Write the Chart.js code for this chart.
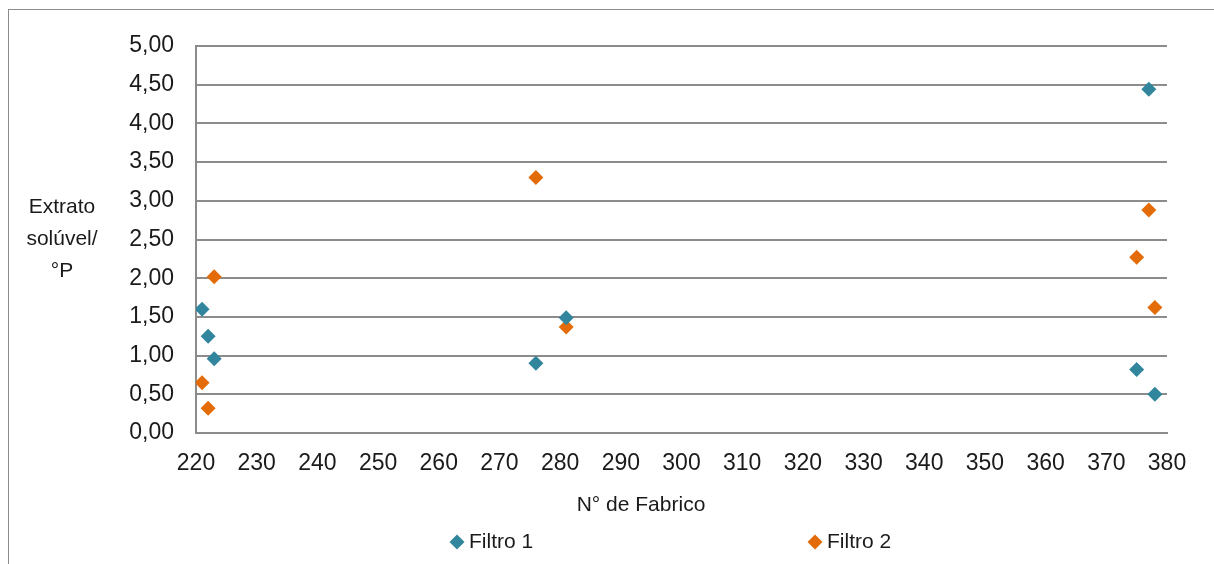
<!DOCTYPE html>
<html lang="pt">
<head>
<meta charset="utf-8">
<title>Extrato solúvel por N° de Fabrico</title>
<script src="https://cdn.jsdelivr.net/npm/chart.js@4.4.1/dist/chart.umd.min.js"></script>
<style>
  html, body { margin: 0; padding: 0; background: #ffffff; overflow: hidden; }
  #wrap { position: relative; width: 1214px; height: 564px; }
  #frame { position: absolute; left: 8px; top: 9px; width: 1300px; height: 700px; border: 1px solid #8c8c8c; box-sizing: border-box; }
  canvas { position: absolute; left: 0; top: 0; }
</style>
</head>
<body>
<div id="wrap">
  <div id="frame"></div>
  <canvas id="chart" width="1214" height="564"></canvas>
</div>
<script>
// N° de fabrico and extrato solúvel (°P) for each filter
const filtro1Fabrico = [221, 222, 223, 276, 281, 375, 377, 378];
const filtro1Extrato = [1.60, 1.25, 0.96, 0.90, 1.49, 0.82, 4.44, 0.50];
const filtro2Fabrico = [221, 222, 223, 276, 281, 375, 377, 378];
const filtro2Extrato = [0.65, 0.32, 2.02, 3.30, 1.37, 2.27, 2.88, 1.62];

const seriesNames = ['Filtro 1', 'Filtro 2'];
const yTitleLines = ['Extrato', 'solúvel/', '°P'];
const xTitle = 'N° de Fabrico';

const FONT = '"Liberation Sans", Arial, sans-serif';
const TEXT = '#1a1a1a';
const GRID = '#8c8c8c';
const TEAL = '#31859C';
const ORANGE = '#E36C09';

const toPoints = (xs, ys) => xs.map((x, i) => ({ x, y: ys[i] }));

// Axis titles and legend drawn on the canvas after the datasets
const annotations = {
  id: 'annotations',
  afterDraw(chart) {
    const ctx = chart.ctx;
    ctx.save();
    ctx.fillStyle = TEXT;
    ctx.font = '21px ' + FONT;
    ctx.textBaseline = 'middle';

    ctx.textAlign = 'center';
    yTitleLines.forEach((line, i) => ctx.fillText(line, 62, 207 + i * 32));
    ctx.fillText(xTitle, 641, 505);

    const legendX = [457, 815];
    const legendY = 542;
    const r = 7.5;
    chart.data.datasets.forEach((ds, i) => {
      ctx.fillStyle = ds.backgroundColor;
      ctx.beginPath();
      ctx.moveTo(legendX[i] - r, legendY);
      ctx.lineTo(legendX[i], legendY - r);
      ctx.lineTo(legendX[i] + r, legendY);
      ctx.lineTo(legendX[i], legendY + r);
      ctx.closePath();
      ctx.fill();
      ctx.fillStyle = TEXT;
      ctx.textAlign = 'left';
      ctx.fillText(ds.label, legendX[i] + 12, legendY);
    });
    ctx.restore();
  }
};

new Chart(document.getElementById('chart'), {
  type: 'scatter',
  data: {
    datasets: [
      {
        label: seriesNames[0],
        data: toPoints(filtro1Fabrico, filtro1Extrato),
        backgroundColor: TEAL,
        borderColor: TEAL,
        pointStyle: 'rectRot',
        pointRadius: 7.5,
        pointBorderWidth: 0
      },
      {
        label: seriesNames[1],
        data: toPoints(filtro2Fabrico, filtro2Extrato),
        backgroundColor: ORANGE,
        borderColor: ORANGE,
        pointStyle: 'rectRot',
        pointRadius: 7.5,
        pointBorderWidth: 0
      }
    ]
  },
  options: {
    responsive: false,
    animation: false,
    layout: { padding: { top: 46, right: 47, left: 0, bottom: 0 } },
    plugins: {
      legend: { display: false },
      tooltip: { enabled: false }
    },
    scales: {
      x: {
        type: 'linear',
        min: 220,
        max: 380,
        afterFit(scale) { scale.height = 131; },
        ticks: {
          stepSize: 10,
          color: TEXT,
          font: { family: FONT, size: 23 },
          padding: 17,
          maxRotation: 0,
          autoSkip: false
        },
        grid: { display: false, drawTicks: false },
        border: { display: true, color: GRID, width: 2 }
      },
      y: {
        min: 0,
        max: 5,
        afterFit(scale) { scale.width = 196; },
        ticks: {
          stepSize: 0.5,
          color: TEXT,
          font: { family: FONT, size: 23 },
          padding: 22,
          callback: v => v.toFixed(2).replace('.', ',')
        },
        grid: { color: GRID, lineWidth: 2, drawTicks: false },
        border: { display: true, color: GRID, width: 2 }
      }
    }
  },
  plugins: [annotations]
});
</script>
</body>
</html>
